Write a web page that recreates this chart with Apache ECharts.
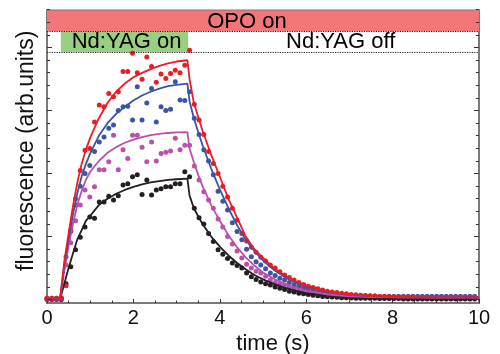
<!DOCTYPE html>
<html><head><meta charset="utf-8">
<script src="https://cdn.jsdelivr.net/npm/echarts@6/dist/echarts.min.js"></script>
<style>html,body{margin:0;padding:0;background:#fff}#c{width:500px;height:354px}</style>
</head><body><div id="c"></div>
<script>
// ---- measured points (time in s, fluorescence in arb. units) ----
const time = [0,0.11,0.22,0.33,0.44,0.55,0.66,0.77,0.88,0.99,1.1,1.21,1.32,1.43,1.54,1.65,1.76,1.87,1.98,2.09,2.2,2.31,2.42,2.53,2.64,2.75,2.86,2.97,3.08,3.19,3.3,3.41,3.52,3.63,3.74,3.85,3.96,4.07,4.18,4.29,4.4,4.51,4.62,4.73,4.84,4.95,5.06,5.17,5.28,5.39,5.5,5.61,5.72,5.83,5.94,6.05,6.16,6.27,6.38,6.49,6.6,6.71,6.82,6.93,7.04,7.15,7.26,7.37,7.48,7.59,7.7,7.81,7.92,8.03,8.14,8.25,8.36,8.47,8.58,8.69,8.8,8.91,9.02,9.13,9.24,9.35,9.46,9.57,9.68,9.79,9.9];
const redPts = [0.02,0.02,0.02,0.03, 0.22,1.1,1.6,2.05,2.37,2.4, 2.82,3.09,3.06,3.27,3.22, 3.3,3.62,3.62,3.91,3.6, 3.5,3.85,3.7,3.45,3.58, 3.51,3.59,3.64,3.6,3.72, 3.96,3.1,2.85,2.62,2.35, 2.16,2.0,1.8,1.63,1.45, 1.26,1.05,0.93,0.83,0.75, 0.67,0.61,0.55,0.5,0.44, 0.39,0.35,0.31,0.27,0.24, 0.21,0.19,0.17,0.15,0.13, 0.12,0.11,0.1,0.09,0.08, 0.075,0.07,0.065,0.06,0.055, 0.05,0.05,0.045,0.045,0.04, 0.04,0.04,0.04,0.035,0.035, 0.035,0.035,0.035,0.035,0.035, 0.035,0.035,0.035,0.035,0.035, 0.035];
const bluePts = [0.02,0.02,0.02,0.02, 0.68,1.08,1.5,1.8,2.0,2.13, 2.35,2.5,2.58,2.72,2.77, 3.0,3.06,3.07,2.85,3.38, 2.85,3.12,3.35,2.82,3.06, 3.0,3.02,3.46,3.17,3.16, 3.3,2.88,2.62,2.38,2.2, 1.98,1.72,1.56,1.42,1.22, 1.08,0.95,0.8,0.68,0.6, 0.55,0.49,0.42,0.38,0.34, 0.31,0.27,0.24,0.21,0.19, 0.17,0.15,0.13,0.12,0.11, 0.1,0.09,0.08,0.075,0.07, 0.065,0.06,0.06,0.055,0.055, 0.05,0.05,0.05,0.05,0.05, 0.05,0.05,0.05,0.05,0.05, 0.05,0.05,0.05,0.05,0.05, 0.05,0.05,0.05,0.05,0.05, 0.05];
const magentaPts = [0.01,0.01,0.01,0.02, 0.55,0.9,1.25,1.5,1.74,1.63, 1.79,2.06,2.06,2.19,2.61, 2.06,2.38,2.24,2.61,2.61, 2.42,2.19,2.5,2.2,2.32, 2.34,2.36,2.56,2.38,2.45, 2.45,2.12,1.9,1.71,1.58, 1.45,1.28,1.15,1.0,0.88, 0.77,0.66,0.56,0.5,0.45, 0.42,0.37,0.31,0.27,0.25, 0.23,0.2,0.18,0.16,0.15, 0.13,0.12,0.1,0.09,0.085, 0.08,0.075,0.07,0.065,0.06, 0.06,0.055,0.055,0.05,0.05, 0.05,0.05,0.05,0.05,0.05, 0.05,0.05,0.05,0.05,0.05, 0.05,0.05,0.05,0.05,0.05, 0.05,0.05,0.05,0.05,0.05, 0.05];
const blackPts = [0,0,0,0, 0.25,0.52,0.79,0.99,1.15,1.31, 1.29,1.55,1.55,1.64,1.58, 1.65,1.82,1.84,1.95,1.98, 1.67,1.9,1.66,1.74,1.76, 1.79,1.79,1.84,1.84,2.03, 1.95,1.45,1.3,1.2,1.05, 0.92,0.79,0.72,0.65,0.58, 0.54,0.5,0.42,0.36,0.32, 0.28,0.25,0.23,0.2,0.18, 0.16,0.13,0.12,0.1,0.09, 0.08,0.07,0.06,0.05,0.045, 0.04,0.035,0.03,0.03,0.025, 0.02,0.02,0.02,0.02,0.02, 0.015,0.015,0.015,0.015,0.015, 0.01,0.01,0.01,0.01,0.01, 0.01,0.01,0.01,0.01,0.01, 0.01,0.01,0.01,0.01,0.01, 0.01];

// ---- fitted curves ----
const fitTime = [0,0.3,0.4,0.5,0.6,0.7,0.8,0.9,1.0,1.2,1.4,1.6,1.8,2.0,2.2,2.4,2.6,2.8,3.0,3.25,3.3,3.4,3.5,3.6,3.8,4.0,4.2,4.4,4.6,4.8,5.0,5.25,5.5,5.75,6.0,6.5,7.0,7.5,8.0,9.0,10.0];
const redFit = [0,0, 0.6,1.05,1.48,1.85,2.15,2.38,2.57, 2.88,3.12,3.3,3.43,3.53,3.6,3.66,3.71,3.75,3.78, 3.80, 3.5,3.12,2.9,2.68, 2.3,1.95,1.6,1.3,1.0,0.8,0.66,0.5,0.38,0.29,0.22, 0.13,0.08,0.055,0.045,0.035,0.035];
const blueFit = [0,0, 0.55,0.95,1.35,1.68,1.95,2.15,2.32, 2.6,2.8,2.95,3.06,3.16,3.24,3.3,3.35,3.39,3.41, 3.43, 3.15,2.88,2.66,2.45, 2.08,1.75,1.45,1.18,0.95,0.77,0.62,0.47,0.36,0.27,0.21, 0.12,0.075,0.055,0.045,0.04,0.04];
const magentaFit = [0,0, 0.45,0.85,1.2,1.5,1.72,1.9,2.03, 2.2,2.33,2.42,2.49,2.54,2.58,2.61,2.63,2.645,2.655, 2.66, 2.4,2.18,1.98,1.8, 1.5,1.25,1.02,0.83,0.67,0.54,0.43,0.33,0.25,0.19,0.14, 0.08,0.05,0.04,0.035,0.03,0.03];
const blackFit = [0,0, 0.25,0.5,0.73,0.95,1.1,1.25,1.33, 1.5,1.6,1.68,1.74,1.79,1.83,1.86,1.88,1.9,1.91, 1.92, 1.65,1.45,1.32,1.2, 1.0,0.84,0.7,0.58,0.48,0.39,0.32,0.25,0.19,0.14,0.1, 0.06,0.035,0.02,0.01,0.005,0.005];

// ---- axis / annotation values ----
const xTickInterval = 2;
const xRange = [0, 10];
const yRange = [-0.055, 4.59];
const opoBandBottom = 4.262;   // OPO band lower edge
const yagBandBottom = 3.93;    // Nd:YAG band lower edge
const yagOnRange = [0.32, 3.27];
const labels = {opo: 'OPO on', yagOn: 'Nd:YAG on', yagOff: 'Nd:YAG off', x: 'time (s)', y: 'fluorescence (arb.units)'};

const FONT = 'Liberation Sans, Arial, Helvetica, sans-serif';
const COL = {red: '#EC1C24', blue: '#3A55A6', magenta: '#BA4FAC', black: '#231F20'};
const pairs = (xs, ys) => xs.map((x, i) => [x, ys[i]]);

const chart = echarts.init(document.getElementById('c'), null, {renderer: 'canvas'});
const axisLineStyle = {color: '#7a7a7a', width: 2};

function dots(name, ys, color) {
  return {type: 'scatter', name, xAxisIndex: 0, yAxisIndex: 0, data: pairs(time, ys),
    symbol: 'circle', symbolSize: 5, itemStyle: {color, opacity: 1}, z: 3, silent: true};
}
function fit(name, ys, color) {
  return {type: 'line', name, xAxisIndex: 0, yAxisIndex: 0, data: pairs(fitTime, ys),
    showSymbol: false, symbol: 'none', lineStyle: {color, width: 1.8}, z: 4, silent: true};
}

const option = {
  animation: false,
  backgroundColor: '#fff',
  textStyle: {fontFamily: FONT},
  grid: [
    {left: 47, right: 21, top: 10.5, bottom: 51, show: true, borderColor: '#7a7a7a', borderWidth: 2,
      containLabel: false, outerBoundsMode: 'none'},
    {left: 47, right: 21, top: -15.5, bottom: 54.5, show: false, containLabel: false, outerBoundsMode: 'none'}
  ],
  xAxis: [
    {gridIndex: 0, type: 'value', min: xRange[0], max: xRange[1], interval: xTickInterval,
      axisLine: {show: true, onZero: false, lineStyle: axisLineStyle},
      axisTick: {show: true, inside: true, length: 4, lineStyle: {color: '#333', width: 1}},
      minorTick: {show: true, splitNumber: 4, length: 2.5, lineStyle: {color: '#333', width: 1}},
      splitLine: {show: false}, minorSplitLine: {show: false},
      axisLabel: {fontSize: 20, color: '#111', margin: 5, fontFamily: FONT},
      name: labels.x, nameLocation: 'middle', nameGap: 27,
      nameTextStyle: {fontSize: 22, color: '#111', fontFamily: FONT, padding: [0, 0, 0, 20]}},
    {gridIndex: 1, type: 'value', min: 0, max: 10, show: false}
  ],
  yAxis: [
    {gridIndex: 0, type: 'value', min: yRange[0], max: yRange[1],
      axisLine: {show: true, onZero: false, lineStyle: axisLineStyle},
      axisTick: {show: false}, axisLabel: {show: false}, splitLine: {show: false},
      name: labels.y, nameLocation: 'middle', nameGap: 9, nameRotate: 90,
      nameTextStyle: {fontSize: 23, color: '#111', fontFamily: FONT, padding: [0, 0, 0, 12]}},
    {gridIndex: 0, type: 'value', position: 'right', min: yRange[0], max: yRange[1],
      axisLine: {show: true, onZero: false, lineStyle: axisLineStyle},
      axisTick: {show: false}, axisLabel: {show: false}, splitLine: {show: false}},
    {gridIndex: 1, type: 'value', min: 0, max: 5, interval: 1, z: 10,
      axisLine: {show: false}, axisLabel: {show: false}, splitLine: {show: false},
      axisTick: {show: true, inside: true, length: 5, lineStyle: {color: '#333', width: 1}},
      minorTick: {show: true, splitNumber: 5, length: 3, lineStyle: {color: '#333', width: 1}}},
    {gridIndex: 1, type: 'value', position: 'right', min: 0, max: 5, interval: 1, z: 10,
      axisLine: {show: false}, axisLabel: {show: false}, splitLine: {show: false},
      axisTick: {show: true, inside: true, length: 5, lineStyle: {color: '#333', width: 1}},
      minorTick: {show: true, splitNumber: 5, length: 3, lineStyle: {color: '#333', width: 1}}}
  ],
  series: [
    {type: 'line', name: 'annotations', xAxisIndex: 0, yAxisIndex: 0, data: [], silent: true, z: 1,
      markArea: {silent: true,
        label: {show: true, position: 'inside', fontSize: 22, color: '#000', fontFamily: FONT},
        data: [
          [{name: labels.opo, coord: [xRange[0], opoBandBottom], itemStyle: {color: '#F27678'}, label: {offset: [-16, 1]}},
           {coord: [xRange[1], yRange[1]]}],
          [{name: labels.yagOn, coord: [yagOnRange[0], yagBandBottom], itemStyle: {color: '#99CF80'}, label: {offset: [2, 0]}},
           {coord: [yagOnRange[1], opoBandBottom]}],
          [{name: labels.yagOff, coord: [yagOnRange[1], yagBandBottom], itemStyle: {color: 'rgba(0,0,0,0)'}, label: {offset: [7, 0]}},
           {coord: [xRange[1], opoBandBottom]}]
        ]},
      markLine: {silent: true, symbol: ['none', 'none'], label: {show: false},
        lineStyle: {type: 'dotted', color: '#222', width: 1.2},
        data: [{yAxis: opoBandBottom}, {yAxis: yagBandBottom}]}},
    dots('black', blackPts, COL.black),
    dots('magenta', magentaPts, COL.magenta),
    dots('blue', bluePts, COL.blue),
    dots('red', redPts, COL.red),
    fit('black fit', blackFit, COL.black),
    fit('magenta fit', magentaFit, COL.magenta),
    fit('blue fit', blueFit, COL.blue),
    fit('red fit', redFit, COL.red)
  ]
};
chart.setOption(option);
</script>
</body></html>
